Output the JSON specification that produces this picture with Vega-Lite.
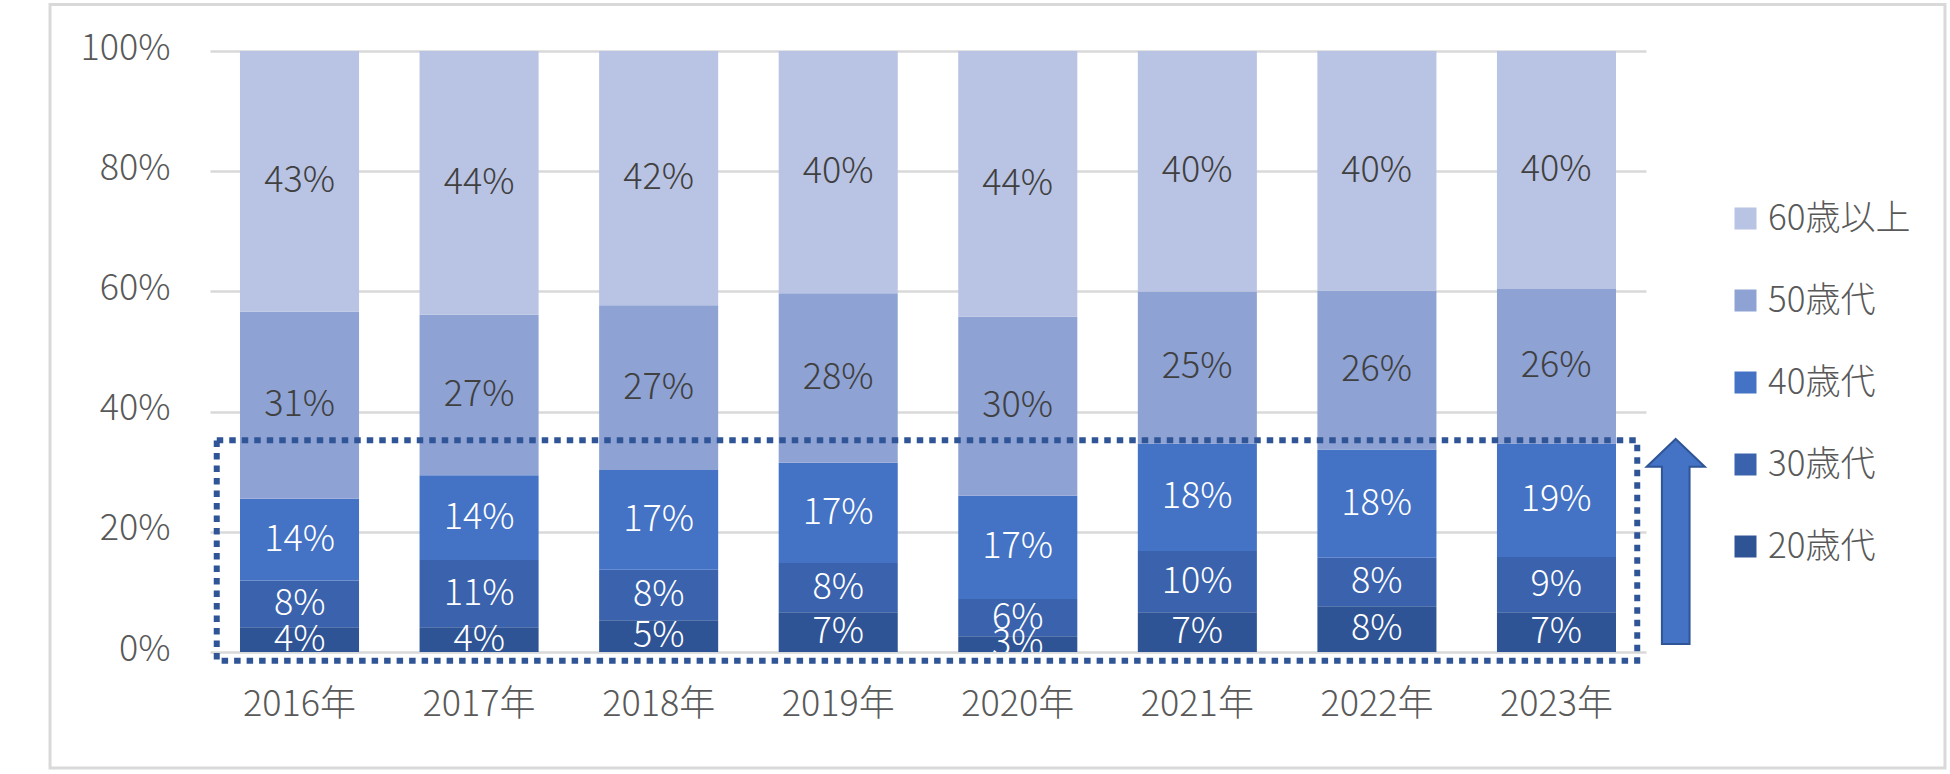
{
  "$schema": "https://vega.github.io/schema/vega-lite/v6.json",
  "width": 1436,
  "height": 601,
  "autosize": {"type": "none"},
  "padding": {"left": 210, "top": 51, "right": 304, "bottom": 122},
  "background": "#ffffff",
  "config": {
    "view": {"stroke": null},
    "font": "Noto Sans CJK JP",
    "axis": {"labelFont": "Noto Sans CJK JP", "labelFontWeight": 300},
    "legend": {"labelFont": "Noto Sans CJK JP", "labelFontWeight": 300}
  },
  "datasets": {
    "main": [
      {"year": "2016年", "age": "20歳代", "k": 1, "v": 0.041},
      {"year": "2016年", "age": "30歳代", "k": 2, "v": 0.078},
      {"year": "2016年", "age": "40歳代", "k": 3, "v": 0.136},
      {"year": "2016年", "age": "50歳代", "k": 4, "v": 0.311},
      {"year": "2016年", "age": "60歳以上", "k": 5, "v": 0.434},
      {"year": "2017年", "age": "20歳代", "k": 1, "v": 0.041},
      {"year": "2017年", "age": "30歳代", "k": 2, "v": 0.112},
      {"year": "2017年", "age": "40歳代", "k": 3, "v": 0.141},
      {"year": "2017年", "age": "50歳代", "k": 4, "v": 0.267},
      {"year": "2017年", "age": "60歳以上", "k": 5, "v": 0.439},
      {"year": "2018年", "age": "20歳代", "k": 1, "v": 0.053},
      {"year": "2018年", "age": "30歳代", "k": 2, "v": 0.084},
      {"year": "2018年", "age": "40歳代", "k": 3, "v": 0.166},
      {"year": "2018年", "age": "50歳代", "k": 4, "v": 0.274},
      {"year": "2018年", "age": "60歳以上", "k": 5, "v": 0.423},
      {"year": "2019年", "age": "20歳代", "k": 1, "v": 0.066},
      {"year": "2019年", "age": "30歳代", "k": 2, "v": 0.082},
      {"year": "2019年", "age": "40歳代", "k": 3, "v": 0.167},
      {"year": "2019年", "age": "50歳代", "k": 4, "v": 0.282},
      {"year": "2019年", "age": "60歳以上", "k": 5, "v": 0.403},
      {"year": "2020年", "age": "20歳代", "k": 1, "v": 0.026},
      {"year": "2020年", "age": "30歳代", "k": 2, "v": 0.062},
      {"year": "2020年", "age": "40歳代", "k": 3, "v": 0.172},
      {"year": "2020年", "age": "50歳代", "k": 4, "v": 0.298},
      {"year": "2020年", "age": "60歳以上", "k": 5, "v": 0.442},
      {"year": "2021年", "age": "20歳代", "k": 1, "v": 0.066},
      {"year": "2021年", "age": "30歳代", "k": 2, "v": 0.102},
      {"year": "2021年", "age": "40歳代", "k": 3, "v": 0.179},
      {"year": "2021年", "age": "50歳代", "k": 4, "v": 0.253},
      {"year": "2021年", "age": "60歳以上", "k": 5, "v": 0.400},
      {"year": "2022年", "age": "20歳代", "k": 1, "v": 0.076},
      {"year": "2022年", "age": "30歳代", "k": 2, "v": 0.081},
      {"year": "2022年", "age": "40歳代", "k": 3, "v": 0.180},
      {"year": "2022年", "age": "50歳代", "k": 4, "v": 0.264},
      {"year": "2022年", "age": "60歳以上", "k": 5, "v": 0.399},
      {"year": "2023年", "age": "20歳代", "k": 1, "v": 0.066},
      {"year": "2023年", "age": "30歳代", "k": 2, "v": 0.092},
      {"year": "2023年", "age": "40歳代", "k": 3, "v": 0.189},
      {"year": "2023年", "age": "50歳代", "k": 4, "v": 0.257},
      {"year": "2023年", "age": "60歳以上", "k": 5, "v": 0.396}
    ],
    "border": [{"x0": -0.1114, "x1": 1.2082, "y0": -0.1929, "y1": 1.0773}],
    "box": [{"x0": 0.0047, "x1": 0.9939, "y0": -0.0145, "y1": 0.3522}],
    "arrow": [{"x": 1.0207, "y": 0.1839}]
  },
  "resolve": {"scale": {"x": "independent"}, "axis": {"x": "independent"}},
  "layer": [
    {
      "data": {"name": "border"},
      "mark": {"type": "rect", "fillOpacity": 0, "stroke": "#D9D9D9", "strokeWidth": 3, "clip": false},
      "encoding": {
        "x": {"field": "x0", "type": "quantitative", "scale": {"domain": [0, 1], "nice": false, "zero": false}, "axis": null},
        "x2": {"field": "x1"},
        "y": {"field": "y0", "type": "quantitative", "scale": {"domain": [0, 1], "nice": false, "zero": false}},
        "y2": {"field": "y1"}
      }
    },
    {
      "data": {"name": "main"},
      "mark": {"type": "bar"},
      "encoding": {
        "x": {
          "field": "year", "type": "nominal", "sort": null, "title": null,
          "scale": {"paddingInner": 0.337, "paddingOuter": 0.167},
          "axis": {"labelAngle": 0, "labelFontSize": 36, "labelColor": "#595959", "labelPadding": 35, "ticks": false, "tickSize": 0, "domain": false, "grid": false}
        },
        "y": {
          "field": "v", "type": "quantitative", "stack": "zero", "title": null,
          "scale": {"domain": [0, 1], "nice": false, "zero": false},
          "axis": {"values": [0, 0.2, 0.4, 0.6, 0.8, 1], "format": ".0%", "labelFontSize": 36, "labelColor": "#595959", "labelPadding": 40, "labelOffset": -3, "ticks": false, "tickSize": 0, "domain": false, "grid": true, "gridColor": "#D9D9D9", "gridWidth": 2.5}
        },
        "color": {
          "field": "age", "type": "nominal",
          "scale": {"domain": ["60歳以上", "50歳代", "40歳代", "30歳代", "20歳代"], "range": ["#B9C3E3", "#8EA2D4", "#4472C4", "#3A62AD", "#2F5496"]},
          "legend": {"orient": "none", "legendX": 1518, "legendY": 150, "direction": "vertical", "title": null, "symbolType": "square", "symbolSize": 484, "symbolStrokeWidth": 0, "symbolOpacity": 1, "labelFontSize": 35, "labelColor": "#595959", "rowPadding": 46, "labelOffset": 5, "padding": 0}
        },
        "order": {"field": "k", "type": "quantitative", "sort": "ascending"}
      }
    },
    {
      "data": {"name": "main"},
      "mark": {"type": "text", "fontSize": 36, "fontWeight": 300, "font": "Noto Sans CJK JP", "baseline": "middle", "align": "center", "clip": true},
      "encoding": {
        "x": {"field": "year", "type": "nominal", "sort": null, "scale": {"paddingInner": 0.337, "paddingOuter": 0.167}, "axis": null},
        "y": {"field": "v", "type": "quantitative", "stack": "zero", "bandPosition": 0.5, "scale": {"domain": [0, 1], "nice": false, "zero": false}},
        "detail": {"field": "age", "type": "nominal"},
        "order": {"field": "k", "type": "quantitative", "sort": "ascending"},
        "text": {"field": "v", "type": "quantitative", "format": ".0%"},
        "color": {"condition": {"test": "datum.k >= 4", "value": "#404040"}, "value": "#ffffff"}
      }
    },
    {
      "data": {"name": "box"},
      "mark": {"type": "rect", "fillOpacity": 0, "stroke": "#2F5597", "strokeWidth": 6, "strokeDash": [6.5, 6], "clip": false},
      "encoding": {
        "x": {"field": "x0", "type": "quantitative", "scale": {"domain": [0, 1], "nice": false, "zero": false}, "axis": null},
        "x2": {"field": "x1"},
        "y": {"field": "y0", "type": "quantitative", "scale": {"domain": [0, 1], "nice": false, "zero": false}},
        "y2": {"field": "y1"}
      }
    },
    {
      "data": {"name": "arrow"},
      "mark": {"type": "point", "shape": "M0,-1L0.284,-0.73L0.135,-0.73L0.135,1L-0.135,1L-0.135,-0.73L-0.284,-0.73Z", "size": 42025, "filled": true, "fill": "#4472C4", "stroke": "#2F5597", "strokeWidth": 2, "opacity": 1, "clip": false},
      "encoding": {
        "x": {"field": "x", "type": "quantitative", "scale": {"domain": [0, 1], "nice": false, "zero": false}, "axis": null},
        "y": {"field": "y", "type": "quantitative", "scale": {"domain": [0, 1], "nice": false, "zero": false}}
      }
    }
  ]
}
